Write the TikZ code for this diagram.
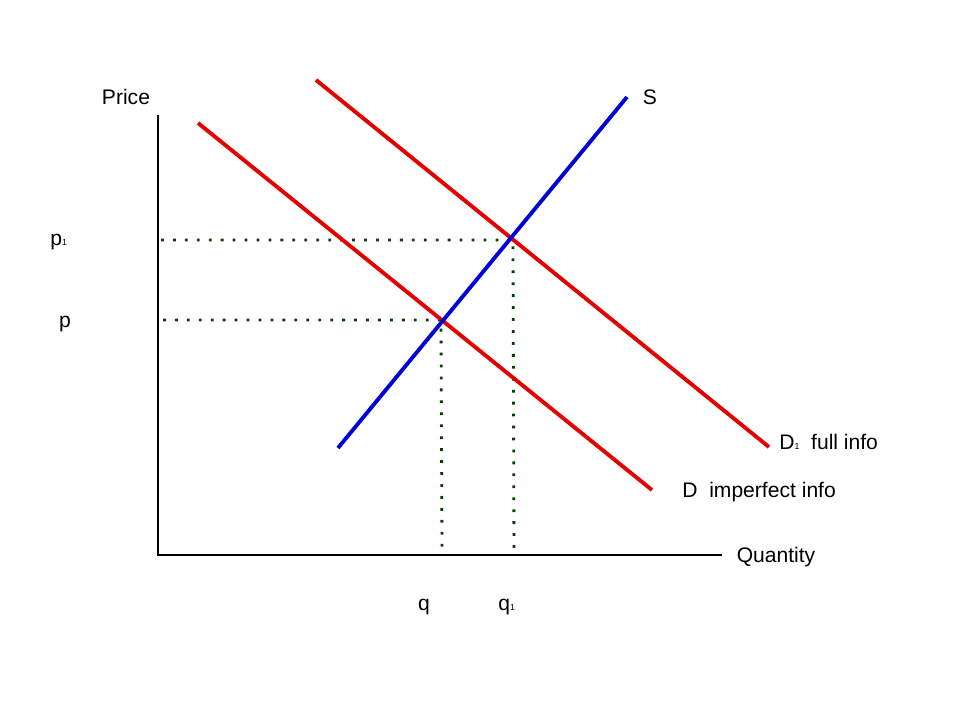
\documentclass[tikz,border=0pt]{standalone}
\usepackage{fontspec}
\setmainfont{Liberation Sans}
\usetikzlibrary{positioning}

\begin{document}
\begin{tikzpicture}[
  x=0.02cm, y=-0.02cm,
  font=\fontsize{12}{14}\selectfont,
  axis/.style={draw=black, line width=0.8pt},
  demand/.style={draw=red!90!black, line width=2.2pt},
  supply/.style={draw=blue!85!black, line width=2.2pt},
  guide/.style={draw=green!25!black, line width=1.6pt, dash pattern=on 1.6pt off 5.2pt},
  lbl/.style={inner sep=0pt}
]
\useasboundingbox (0,0) rectangle (960,720);

% axes
\coordinate (origin) at (158,555);
\coordinate (ytop) at (158,115);
\coordinate (xend) at (722,555);
\draw[axis] (ytop) -- (origin) -- (xend);
\node[lbl] (price) at (126,97) {Price};
\node[lbl] (quantity) at (776,557) {Quantity};

% curves
\coordinate (d0a) at (198,123);
\coordinate (d0b) at (652,490);
\coordinate (d1a) at (316,80);
\coordinate (d1b) at (769,447);
\coordinate (sa) at (338,448);
\coordinate (sb) at (627,97);
\coordinate (eq0) at (441,320);
\coordinate (eq1) at (513,240);

% equilibrium guides
\coordinate (p0axis) at (163,320);
\coordinate (p1axis) at (161,240);
\coordinate (q0axis) at (442,555);
\coordinate (q1axis) at (514,555);
\draw[guide] (p1axis) -- (eq1) -- (q1axis);
\draw[guide] (p0axis) -- (eq0) -- (q0axis);

\draw[demand] (d0a) -- (d0b);
\draw[demand] (d1a) -- (d1b);
\draw[supply] (sa) -- (sb);

\node[lbl] (slbl) at (650,97) {S};
\node[lbl, anchor=west] (d1lbl) at (779,442) {D{\tiny 1}\ \ full info};
\node[lbl, anchor=west] (d0lbl) at (682,492) {D\ \ imperfect info};

\node[lbl, anchor=west] (p1lbl) at (50,242) {p{\tiny 1}};
\node[lbl] (p0lbl) at (65,324) {p};
\node[lbl] (q0lbl) at (424,607) {q};
\node[lbl, anchor=west] (q1lbl) at (498,607) {q{\tiny 1}};
\end{tikzpicture}
\end{document}
